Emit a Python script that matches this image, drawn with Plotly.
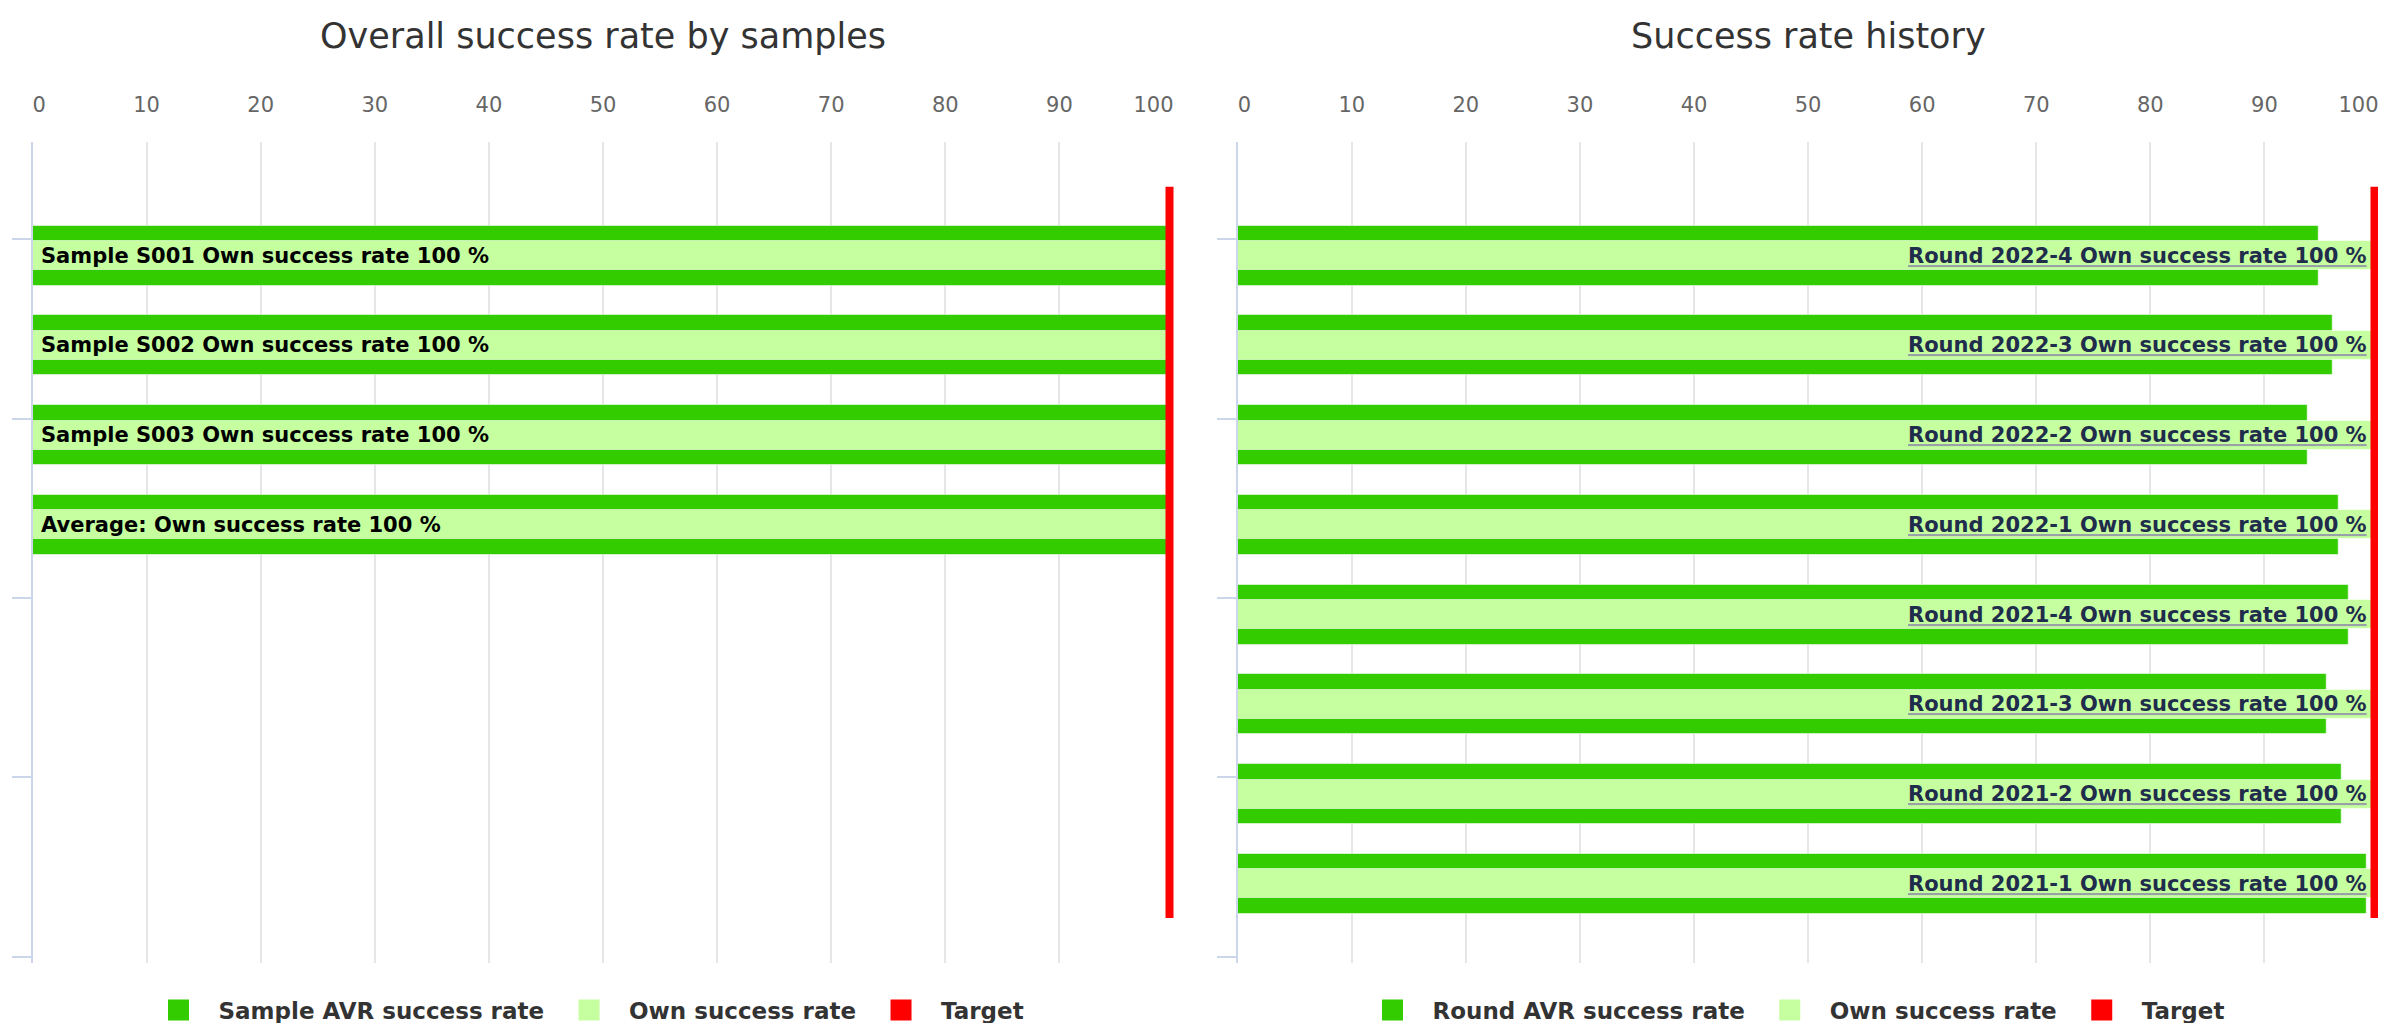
import plotly.graph_objects as go

# ---------------- data ----------------
sample_categories = ["Sample S001", "Sample S002", "Sample S003", "Average:"]
sample_avr_rate = [100, 100, 100, 100]
sample_own_rate = [100, 100, 100, 100]

round_categories = ["Round 2022-4", "Round 2022-3", "Round 2022-2", "Round 2022-1",
                    "Round 2021-4", "Round 2021-3", "Round 2021-2", "Round 2021-1"]
round_avr_rate = [94.8, 96.0, 93.8, 96.5, 97.4, 95.5, 96.8, 99.0]
round_own_rate = [100, 100, 100, 100, 100, 100, 100, 100]

target_rate = 100
x_tick_values = [0, 10, 20, 30, 40, 50, 60, 70, 80, 90, 100]
x_tick_labels = ["0", "10", "20", "30", "40", "50", "60", "70", "80", "90", "100"]

left_title = "Overall success rate by samples"
right_title = "Success rate history"
left_legend_names = ["Sample AVR success rate", "Own success rate", "Target"]
right_legend_names = ["Round AVR success rate", "Own success rate", "Target"]

# ---------------- style ----------------
OFF = 8                      # page body margin
FW, FH = 2386 - OFF + 50, 1023 - OFF + 50   # figure runs past the window edge
FONT = "DejaVu Sans"
DARK = "#33cc00"
LIGHT = "#c5ffa0"
RED = "#ff0000"
SLOTS = 8                    # category slots shown in both panels


def px(x):
    return (x - OFF) / FW


def py(y):
    return 1 - (y - OFF) / FH


left_dom = [px(32.5), px(1173.5)]
right_dom = [px(1237.7), px(2378.5)]
y_dom = [py(963), py(142)]
y_range = [SLOTS - 1 + 0.881, -1.267]

fig = go.Figure()


def add_panel(cats, avr, own, names, xa, ya, legend, label_side, edge_axes):
    idx = list(range(len(cats)))
    fig.add_trace(go.Bar(
        orientation="h", x=avr, y=idx, width=0.668, name=names[0], showlegend=False,
        marker=dict(color=DARK, line=dict(color="rgba(255,255,255,0.55)", width=1)),
        xaxis=xa, yaxis=ya, hoverinfo="skip"))
    fig.add_trace(go.Bar(
        orientation="h", x=own, y=idx, width=0.323, name=names[1], showlegend=False,
        marker=dict(color=LIGHT, line=dict(color="rgba(255,255,255,0.55)", width=1)),
        xaxis=xa, yaxis=ya, hoverinfo="skip"))
    # legend entries (square symbols)
    for name, col in zip(names, [DARK, LIGHT, RED]):
        fig.add_trace(go.Scatter(
            x=[None], y=[None], mode="markers", name=name, xaxis=xa, yaxis=ya,
            legend=legend, hoverinfo="skip",
            marker=dict(symbol="square", size=16, color=col, line=dict(color=col, width=5))))
    # empty traces so the edge-label axes are drawn
    for ea in edge_axes:
        fig.add_trace(go.Scatter(x=[None], y=[None], mode="markers", xaxis=ea, yaxis=ya,
                                 showlegend=False, hoverinfo="skip"))
    # target line
    fig.add_shape(type="line", xref=xa, yref=ya,
                  x0=target_rate, x1=target_rate, y0=-0.769, y1=SLOTS - 1 + 0.379,
                  line=dict(color=RED, width=16), layer="above")
    # data labels
    for i, (c, v) in enumerate(zip(cats, own)):
        label = f"{c} Own success rate {v:g} %"
        if label_side == "left":
            fig.add_annotation(x=0, y=i, xref=xa, yref=ya, text=label,
                               xanchor="left", yanchor="middle", xshift=6, showarrow=False,
                               font=dict(family=FONT, size=21, color="#000000", weight="bold"))
        else:
            txt = ('<span style="text-decoration:underline;text-decoration-color:#9aa0a8;'
                   'color:#9aa0a8"><span style="color:#1f2c4c">' + label + '</span></span>')
            fig.add_annotation(x=v, y=i, xref=xa, yref=ya, text=txt,
                               xanchor="right", yanchor="middle", xshift=-10, showarrow=False,
                               font=dict(family=FONT, size=21, color="#1f2c4c", weight="bold"))


add_panel(sample_categories, sample_avr_rate, sample_own_rate, left_legend_names,
          "x", "y", "legend", "left", ["x3", "x4"])
add_panel(round_categories, round_avr_rate, round_own_rate, right_legend_names,
          "x2", "y2", "legend2", "right", ["x5", "x6"])

tick_font = dict(family=FONT, size=21, color="#666666")
xaxis_style = dict(side="top", range=[0, 100], tickvals=x_tick_values[1:-1],
                   ticktext=x_tick_labels[1:-1],
                   showgrid=True, gridcolor="#e6e6e6", gridwidth=1.5, zeroline=False,
                   showline=False, ticks="", ticklabelstandoff=25, automargin=False,
                   tickfont=tick_font, fixedrange=True)
# first / last labels are kept inside the panel, like the original
first_style = dict(side="top", range=[0, 100], tickvals=x_tick_values[:1],
                   ticktext=x_tick_labels[:1], ticklabelposition="outside right",
                   showgrid=False, zeroline=False, showline=False, ticks="",
                   ticklabelstandoff=25, automargin=False, tickfont=tick_font, fixedrange=True)
last_style = dict(first_style, tickvals=x_tick_values[-1:], ticktext=x_tick_labels[-1:],
                  ticklabelposition="outside left")
last_style["showgrid"] = True
last_style["gridcolor"] = "#e6e6e6"
last_style["gridwidth"] = 1.5

yaxis_style = dict(range=y_range, domain=y_dom, showticklabels=False, showgrid=False,
                   zeroline=False, showline=True, linecolor="#ccd6eb", linewidth=1.5,
                   ticks="outside", ticklen=19, tickcolor="#ccd6eb", tickwidth=2,
                   tickmode="linear", tick0=-0.186, dtick=2, fixedrange=True, automargin=False)

legend_style = dict(orientation="h", xanchor="center", yanchor="middle", y=py(1010),
                    itemwidth=70, borderwidth=0,
                    font=dict(family=FONT, size=23, color="#333333", weight="bold"),
                    bgcolor="rgba(0,0,0,0)", itemclick=False, itemdoubleclick=False)

fig.update_layout(
    width=FW, height=FH,
    margin=dict(l=0, r=0, t=0, b=0, autoexpand=False),
    paper_bgcolor="white", plot_bgcolor="white",
    barmode="overlay", bargap=0,
    font=dict(family=FONT),
    hovermode=False,
    xaxis=dict(domain=left_dom, anchor="y", **xaxis_style),
    yaxis=dict(anchor="x", **yaxis_style),
    xaxis2=dict(domain=right_dom, anchor="y2", **xaxis_style),
    yaxis2=dict(anchor="x2", **yaxis_style),
    xaxis3=dict(overlaying="x", anchor="y", **first_style),
    xaxis4=dict(overlaying="x", anchor="y", **last_style),
    xaxis5=dict(overlaying="x2", anchor="y2", **first_style),
    xaxis6=dict(overlaying="x2", anchor="y2", **last_style),
    legend=dict(x=px(584), **legend_style),
    legend2=dict(x=px(1791), **legend_style),
    annotations=list(fig.layout.annotations) + [
        dict(text=left_title, x=(left_dom[0] + left_dom[1]) / 2, y=py(36.5),
             xref="paper", yref="paper", xanchor="center", yanchor="middle", showarrow=False,
             font=dict(family=FONT, size=35, color="#333333")),
        dict(text=right_title, x=(right_dom[0] + right_dom[1]) / 2, y=py(36.5),
             xref="paper", yref="paper", xanchor="center", yanchor="middle", showarrow=False,
             font=dict(family=FONT, size=35, color="#333333")),
    ],
)

fig.write_html("out.html")
